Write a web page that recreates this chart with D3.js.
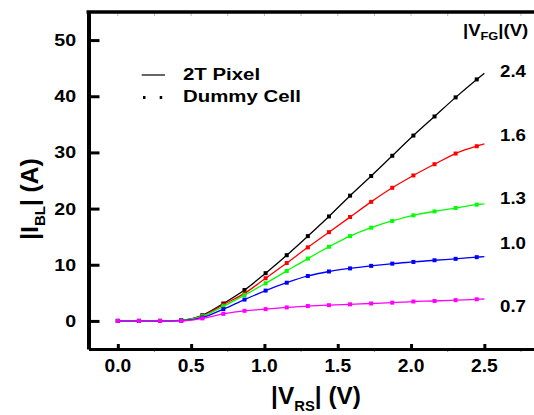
<!DOCTYPE html>
<html><head><meta charset="utf-8">
<script src="https://cdn.jsdelivr.net/npm/d3@7/dist/d3.min.js"></script>
<style>
body{margin:0;background:#fff}
svg{display:block}
text{font-family:"Liberation Sans",Arial,sans-serif;font-weight:bold;fill:#000}
</style>
</head><body>
<svg id="c" width="534" height="415"></svg>
<script>
// ---- data ----
const vrs = [0, 0.144, 0.288, 0.432, 0.576, 0.72, 0.864, 1.008, 1.152, 1.296, 1.44, 1.584, 1.728, 1.872, 2.016, 2.16, 2.304, 2.448];
const vfgLabels = ["2.4", "1.6", "1.3", "1.0", "0.7"];
const seriesColors = ["#000000", "#ff0000", "#00ff00", "#0000ff", "#ff00ff"];
const ibl_24 = [0, 0, 0, 0.1, 1.0, 3.1, 5.5, 8.5, 11.7, 15.1, 18.6, 22.3, 25.8, 29.4, 33.0, 36.4, 39.8, 43.0];
const ibl_16 = [0, 0, 0, 0.1, 0.9, 2.9, 4.9, 7.6, 10.3, 13.1, 15.8, 18.5, 21.2, 23.7, 25.9, 27.9, 29.8, 31.1];
const ibl_13 = [0, 0, 0, 0.1, 0.8, 2.6, 4.6, 6.7, 8.9, 11.1, 13.2, 15.1, 16.6, 17.8, 18.8, 19.5, 20.1, 20.7];
const ibl_10 = [0, 0, 0, 0.05, 0.6, 2.1, 3.8, 5.4, 6.8, 8.0, 8.8, 9.35, 9.8, 10.2, 10.5, 10.8, 11.05, 11.35];
const ibl_07 = [0, 0, 0, 0, 0.45, 1.25, 1.8, 2.1, 2.4, 2.65, 2.8, 2.95, 3.1, 3.25, 3.45, 3.55, 3.7, 3.85];
const lineEndX = 2.5;
const lineEndY = [44.1, 31.5, 20.85, 11.45, 3.9];
const xTicks = [0, 0.5, 1.0, 1.5, 2.0, 2.5];
const xMinor = [0, 0.25, 0.5, 0.75, 1.0, 1.25, 1.5, 1.75, 2.0, 2.25, 2.5, 2.75];
const yTicks = [0, 10, 20, 30, 40, 50];

const seriesVals = [ibl_24, ibl_16, ibl_13, ibl_10, ibl_07];

// ---- chart ----
const svg = d3.select("#c");
const x = d3.scaleLinear().domain([-0.2, 2.9]).range([88.5, 543]);
const y = d3.scaleLinear().domain([-5, 55]).range([349, 12]);

function txt(g, str, tx, ty, size, sx, anchor) {
  return g.append("text").attr("transform", `translate(${tx},${ty}) scale(${sx},1)`)
    .attr("font-size", size).attr("text-anchor", anchor || "start").text(str);
}

// minor ticks (gray)
svg.append("g").selectAll("line.mb").data(xMinor.filter(v => !xTicks.includes(v))).join("line")
  .attr("x1", d => x(d)).attr("x2", d => x(d)).attr("y1", 349).attr("y2", 352)
  .attr("stroke", "#888").attr("stroke-width", 1);
svg.append("g").selectAll("line.mt").data(xMinor).join("line")
  .attr("x1", d => x(d)).attr("x2", d => x(d)).attr("y1", 12).attr("y2", 16)
  .attr("stroke", "#bbb").attr("stroke-width", 1);

// series lines
const line = d3.line().x(d => x(d[0])).y(d => y(d[1])).curve(d3.curveMonotoneX);
seriesVals.forEach((vals, i) => {
  const pts = vrs.map((v, j) => [v, vals[j]]).concat([[lineEndX, lineEndY[i]]]);
  svg.append("path").datum(pts).attr("d", line).attr("fill", "none")
    .attr("stroke", seriesColors[i]).attr("stroke-width", 1.3);
  svg.append("g").selectAll("rect").data(vrs.map((v, j) => [v, vals[j]])).join("rect")
    .attr("x", d => x(d[0]) - 2).attr("y", d => y(d[1]) - 2)
    .attr("width", 4).attr("height", 4).attr("fill", seriesColors[i]);
});

// axes
const xAxis = d3.axisBottom(x).tickValues(xTicks).tickSize(-5).tickSizeOuter(0).tickFormat("");
const gx = svg.append("g").attr("transform", "translate(0,349)").call(xAxis);
gx.select(".domain").attr("stroke-width", 3);
gx.selectAll(".tick line").attr("stroke-width", 3);

const yAxis = d3.axisLeft(y).tickValues(yTicks).tickSize(-11).tickSizeOuter(0).tickFormat("");
const gy = svg.append("g").attr("transform", "translate(88.5,0)").call(yAxis);
gy.select(".domain").attr("stroke-width", 4);
gy.selectAll(".tick line").attr("stroke-width", 3);

// top and right border
svg.append("line").attr("x1", x(-0.2) - 2).attr("x2", x(2.9)).attr("y1", 12).attr("y2", 12)
  .attr("stroke", "#000").attr("stroke-width", 3.5);
svg.append("line").attr("x1", x(2.9)).attr("x2", x(2.9)).attr("y1", 12).attr("y2", 349)
  .attr("stroke", "#000").attr("stroke-width", 3.5);

// tick labels
xTicks.forEach(v => txt(svg, d3.format(".1f")(v), x(v), 372, 17.5, 1.1, "middle"));
yTicks.forEach(v => txt(svg, String(v), 76, y(v) + 6, 17, 1.15, "end"));

// axis titles
const xt = svg.append("text").attr("transform", "translate(316,404) scale(1.06,1)")
  .attr("font-size", 23).attr("text-anchor", "middle");
xt.append("tspan").text("|V");
xt.append("tspan").attr("font-size", 14).attr("dy", 7).text("RS");
xt.append("tspan").attr("dy", -7).text("| (V)");

const yt = svg.append("text").attr("transform", "translate(38,199) rotate(-90) scale(1.07,1)")
  .attr("font-size", 23).attr("text-anchor", "middle");
yt.append("tspan").text("|I");
yt.append("tspan").attr("font-size", 14).attr("dy", 7).text("BL");
yt.append("tspan").attr("dy", -7).text("| (A)");

// legend
svg.append("line").attr("x1", 141.7).attr("x2", 165).attr("y1", 75).attr("y2", 75)
  .attr("stroke", "#000").attr("stroke-width", 1.2);
txt(svg, "2T Pixel", 183, 80, 17, 1.2);
svg.append("g").selectAll("rect").data([144, 160.7]).join("rect")
  .attr("x", d => d - 1).attr("y", 96).attr("width", 2.5).attr("height", 3).attr("fill", "#000");
txt(svg, "Dummy Cell", 183, 102, 17, 1.2);

// right labels
const labelY = [77, 141, 204, 249, 312];
vfgLabels.forEach((l, i) => txt(svg, l, 500, labelY[i], 17, 1.1));

// header
const hd = svg.append("text").attr("transform", "translate(463,36) scale(1.16,1)").attr("font-size", 16);
hd.append("tspan").text("|V");
hd.append("tspan").attr("font-size", 11).attr("dy", 4).text("FG");
hd.append("tspan").attr("dy", -4).text("|(V)");
</script>
</body></html>
